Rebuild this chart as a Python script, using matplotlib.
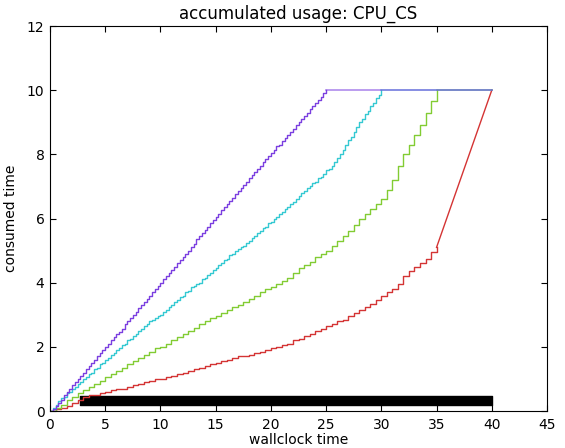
import numpy as np
import matplotlib
matplotlib.use("Agg")
import matplotlib.pyplot as plt

purple_dt = 0.25
purple_v = [0, 0.05, 0.15, 0.25, 0.35, 0.5, 0.6, 0.7, 0.8, 0.9, 1.0, 1.1, 1.2, 1.3, 1.4,
            1.5, 1.6, 1.7, 1.8, 1.9, 2.0, 2.1, 2.2, 2.3, 2.4, 2.45, 2.55, 2.7, 2.8, 2.9,
            3.0, 3.1, 3.2, 3.3, 3.4, 3.5, 3.6, 3.7, 3.8, 3.9, 4.0, 4.1, 4.2, 4.3, 4.4,
            4.5, 4.6, 4.7, 4.8, 4.9, 5.0, 5.1, 5.2, 5.35, 5.45, 5.55, 5.65, 5.75, 5.85,
            5.95, 6.05, 6.15, 6.25, 6.35, 6.45, 6.55, 6.65, 6.75, 6.85, 6.95, 7.05, 7.15,
            7.25, 7.35, 7.45, 7.55, 7.65, 7.75, 7.85, 7.95, 8.05, 8.15, 8.25, 8.3, 8.4,
            8.5, 8.6, 8.7, 8.8, 8.9, 9.0, 9.1, 9.2, 9.3, 9.4, 9.5, 9.6, 9.7, 9.8, 9.9, 10.0]

cyan_dt = 0.25
cyan_v = [0, 0.1, 0.2, 0.3, 0.4, 0.45, 0.55, 0.6, 0.7, 0.75, 0.85, 0.9, 1.0, 1.05, 1.15,
          1.2, 1.3, 1.35, 1.45, 1.5, 1.6, 1.65, 1.75, 1.8, 1.9, 1.95, 2.05, 2.1, 2.2, 2.25,
          2.35, 2.4, 2.5, 2.55, 2.65, 2.7, 2.8, 2.85, 2.9, 2.95, 3.0, 3.1, 3.15, 3.25, 3.3,
          3.4, 3.45, 3.55, 3.6, 3.7, 3.75, 3.85, 3.9, 3.95, 4.0, 4.1, 4.15, 4.25, 4.3, 4.4,
          4.45, 4.55, 4.6, 4.7, 4.75, 4.85, 4.9, 5.0, 5.05, 5.1, 5.15, 5.25, 5.3, 5.4,
          5.45, 5.55, 5.6, 5.7, 5.75, 5.85, 5.9, 6.0, 6.05, 6.15, 6.2, 6.3, 6.35, 6.45,
          6.5, 6.6, 6.7, 6.8, 6.85, 6.95, 7.0, 7.1, 7.15, 7.25, 7.3, 7.4, 7.5, 7.55, 7.65,
          7.75, 7.9, 8.0, 8.15, 8.3, 8.45, 8.55, 8.7, 8.85, 9.0, 9.1, 9.25, 9.35, 9.5,
          9.6, 9.75, 9.85, 10.0]

green_dt = 0.5
green_v = [0, 0.1, 0.2, 0.35, 0.45, 0.55, 0.65, 0.75, 0.85, 0.95, 1.05, 1.15, 1.25, 1.35,
           1.45, 1.55, 1.65, 1.75, 1.85, 1.95, 2.0, 2.1, 2.2, 2.3, 2.4, 2.5, 2.6, 2.7, 2.8,
           2.9, 2.95, 3.05, 3.15, 3.25, 3.3, 3.4, 3.5, 3.6, 3.7, 3.8, 3.85, 3.95, 4.05,
           4.15, 4.3, 4.45, 4.55, 4.65, 4.8, 4.9, 5.0, 5.15, 5.3, 5.45, 5.6, 5.8, 6.0, 6.15,
           6.3, 6.45, 6.6, 6.9, 7.2, 7.65, 8.0, 8.3, 8.6, 8.9, 9.3, 9.65, 10.0]

red_dt = 0.5
red_v = [0, 0.05, 0.1, 0.15, 0.25, 0.35, 0.45, 0.5, 0.5, 0.55, 0.6, 0.65, 0.7, 0.7, 0.75,
         0.8, 0.85, 0.9, 0.95, 1.0, 1.0, 1.05, 1.1, 1.15, 1.2, 1.25, 1.3, 1.35, 1.4, 1.45,
         1.5, 1.55, 1.6, 1.65, 1.7, 1.7, 1.75, 1.8, 1.85, 1.9, 1.95, 2.0, 2.05, 2.1, 2.2,
         2.25, 2.35, 2.4, 2.5, 2.55, 2.65, 2.7, 2.8, 2.85, 2.95, 3.05, 3.15, 3.25, 3.35,
         3.45, 3.6, 3.7, 3.8, 3.95, 4.2, 4.35, 4.5, 4.6, 4.75, 4.95, 5.1]

# final (time, value) each job ends at
end_t = 40
end_v = 10

# busy bar
bar_start, bar_end = 2.7, 40
bar_low, bar_high = 0.2, 0.47

plt.rcParams.update({"font.size": 10, "xtick.direction": "in", "ytick.direction": "in",
                     "xtick.top": True, "ytick.right": True,
                     "xtick.major.size": 4, "ytick.major.size": 4,
                     "xtick.major.pad": 5, "ytick.major.pad": 4})


def main():
    fig = plt.figure(figsize=(5.65, 4.48), dpi=100)
    ax = fig.add_axes([50 / 565, 37 / 448, 497 / 565, 385 / 448])

    series = [(red_dt, red_v, "#d43434"),
              (green_dt, green_v, "#82cc33"),
              (cyan_dt, cyan_v, "#35c9d2"),
              (purple_dt, purple_v, "#7b3fe0")]
    for dt, v, c in series:
        t = np.arange(len(v)) * dt
        ax.plot(t, v, drawstyle="steps-post", color=c, lw=1)
        # flat tails overlap at the top, drawn translucent so they blend
        flat = v[-1] == end_v
        ax.plot([t[-1], end_t], [v[-1], end_v], color=c,
                lw=1.2 if flat else 1.0, alpha=0.6 if flat else 1.0)

    ax.broken_barh([(bar_start, bar_end - bar_start)], (bar_low, bar_high - bar_low),
                   color="black")

    ax.set_xlim(0, 45)
    ax.set_ylim(0, 12)
    ax.set_xticks(range(0, 46, 5))
    ax.set_yticks(range(0, 13, 2))
    ax.set_xlabel("wallclock time", labelpad=1)
    ax.set_ylabel("consumed time", labelpad=6)
    ax.set_title("accumulated usage: CPU_CS", pad=5)

    fig.savefig("out.png", dpi=100, facecolor="white")


if __name__ == "__main__":
    main()
